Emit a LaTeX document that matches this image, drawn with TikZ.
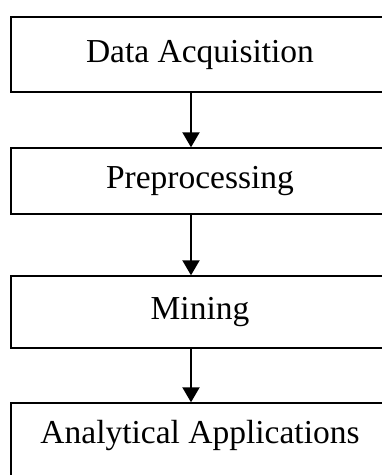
\documentclass[tikz,border=0pt]{standalone}
\usepackage{fontspec}
\setmainfont{Liberation Serif}
\usetikzlibrary{arrows.meta}
\begin{document}
\begin{tikzpicture}[x=1pt,y=-1pt,
  stage/.style={draw=black,line width=1.4pt,minimum width=378pt,inner sep=0pt,
    font=\fontsize{33.5}{36}\selectfont,text=black},
  flow/.style={line width=2pt,-{Triangle[length=15pt,width=17pt]}}]
\useasboundingbox (0,0) rectangle (382,475);
\clip (0,0) rectangle (382,475);
\fill[white] (0,0) rectangle (382,475);
% stages of the pipeline, top to bottom
\node[stage,minimum height=75pt] (acq) at (200,54.5) {Data Acquisition};
\node[stage,minimum height=66pt] (pre) at (200,181) {Preprocessing};
\node[stage,minimum height=72pt] (min) at (200,312) {Mining};
\node[stage,minimum height=76pt] (app) at (200,441) {};
\node[font=\fontsize{33.5}{36}\selectfont] (applbl) at (200,435) {Analytical Applications};
% connectors, slightly left of the box centres
\draw[flow] ([xshift=-9pt]acq.south) -- ([xshift=-9pt]pre.north);
\draw[flow] ([xshift=-9pt]pre.south) -- ([xshift=-9pt]min.north);
\draw[flow] ([xshift=-9pt]min.south) -- ([xshift=-9pt]app.north);
\end{tikzpicture}
\end{document}
